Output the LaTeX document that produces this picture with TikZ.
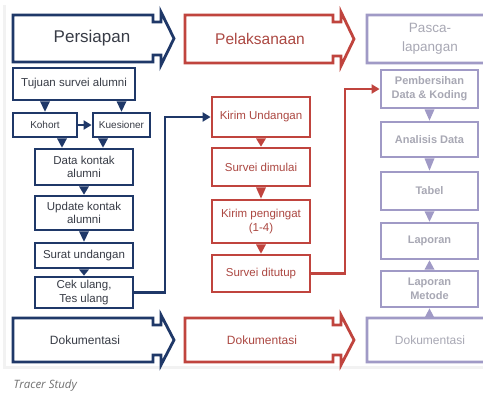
\documentclass[tikz,border=0pt]{standalone}
\usepackage{fontspec}
\setmainfont{Liberation Sans}
\newfontfamily\capfont{Open Sans}
\usetikzlibrary{calc,arrows.meta}

\definecolor{navy}{RGB}{31,56,104}
\definecolor{brick}{RGB}{192,68,62}
\definecolor{lilac}{RGB}{160,154,198}
\definecolor{navytxt}{RGB}{56,60,70}
\definecolor{bricktxt}{RGB}{172,72,66}
\definecolor{lilactxt}{RGB}{168,168,180}
\definecolor{captxt}{RGB}{112,112,112}

% notched stage arrow: (left, top, body right, bottom)
\def\stage[#1](#2,#3,#4,#5){\draw[#1, line width=2.8pt, line join=miter] (#2,#3) -- (#4,#3) -- (#4,#3+7) -- (#4+8,#3+7) -- (#4+8,#3-3) -- (#4+21,{(#3+#5)/2}) -- (#4+8,#5+3) -- (#4+8,#5-7) -- (#4,#5-7) -- (#4,#5) -- (#2,#5) -- cycle;}
% small wedge from a box edge to the next box
\def\wedgeto[#1](#2)(#3){\coordinate (wb) at (#2); \fill[#1] ([xshift=-5pt]wb) -- ([xshift=5pt]wb) -- (#3) -- cycle;}

\tikzset{
  box/.style={draw, line width=2.8pt, align=center, inner sep=1pt, font=\fontsize{11.5}{13.5}\selectfont},
  bluebox/.style={box, draw=navy, text=navytxt},
  redbox/.style={box, draw=brick, text=bricktxt, minimum width=98},
  lilacbox/.style={box, draw=lilac, text=lilactxt, minimum width=97, font=\bfseries\fontsize{11}{14}\selectfont},
  small/.style={font=\fontsize{10}{12}\selectfont},
  link/.style={line width=2.4pt, -{Triangle[length=8pt,width=9pt]}},
}

\begin{document}
\begin{tikzpicture}[x=1pt,y=-1pt]
%%%%% START %%%%%
\useasboundingbox (0,0) rectangle (483,394);
\clip (0,0) rectangle (483,394);
\fill[white] (0,0) rectangle (483,394);
\fill[black!5] (3,5) rectangle (483,369);
\fill[white] (6,3) rectangle (483,366);

% stage arrows
\stage[navy](13,15,153,62)
\stage[brick](185,15,333,63)
\stage[lilac](367,15,520,63)
\stage[navy](13,318,153,362)
\stage[brick](185,318,333,362)
\stage[lilac](367,318,520,362)

\node[text=navytxt, font=\fontsize{17}{20}\selectfont] (persiapan) at (92,38.5) {Persiapan};
\node[text=bricktxt, font=\fontsize{15.5}{18}\selectfont] (pelaksanaan) at (260,38.5) {Pelaksanaan};
\node[text=lilactxt, align=center, font=\fontsize{13.5}{19}\selectfont] (pasca) at (430,38.5) {Pasca-\\lapangan};

\node[text=navytxt, font=\fontsize{12}{14}\selectfont] (doc1) at (85,340) {Dokumentasi};
\node[text=bricktxt, font=\fontsize{12}{14}\selectfont] (doc2) at (262,340) {Dokumentasi};
\node[text=lilactxt, font=\fontsize{12}{14}\selectfont] (doc3) at (430,340) {Dokumentasi};
\coordinate (doc3top) at (429.5,318);

% persiapan
\node[bluebox, minimum width=122, minimum height=32] (tujuan) at (74,84) {Tujuan survei alumni};
\node[bluebox, small, minimum width=64, minimum height=24] (kohort) at (45,125) {Kohort};
\node[bluebox, small, minimum width=57, minimum height=24] (kues) at (121.5,125) {Kuesioner};
\node[bluebox, minimum width=98, minimum height=36] (data) at (84,167) {Data kontak\\alumni};
\node[bluebox, minimum width=98, minimum height=34] (update) at (84,213) {Update kontak\\alumni};
\node[bluebox, minimum width=98, minimum height=25] (surat) at (84,255.5) {Surat undangan};
\node[bluebox, minimum width=98, minimum height=31] (cek) at (84,292.5) {Cek ulang,\\Tes ulang};

\coordinate (dl) at ([xshift=-22pt]data.north);
\coordinate (dr) at ([xshift=19pt]data.north);
\wedgeto[navy](tujuan.south -| kohort.north)(kohort.north)
\wedgeto[navy](tujuan.south -| kues.north)(kues.north)
\wedgeto[navy](kohort.south -| dl)(dl)
\wedgeto[navy](kues.south -| dr)(dr)
\wedgeto[navy](data.south)(update.north)
\wedgeto[navy](update.south)(surat.north)
\wedgeto[navy](surat.south)(cek.north)
\draw[link, navy] (kohort) -- (kues);

% pelaksanaan
\node[redbox, minimum height=40] (kirim) at (261,117) {Kirim Undangan};
\node[redbox, minimum height=38] (mulai) at (261,167) {Survei dimulai};
\node[redbox, minimum height=43] (ingat) at (261,221.5) {Kirim pengingat\\(1-4)};
\node[redbox, minimum height=37] (tutup) at (261,273.5) {Survei ditutup};

\wedgeto[brick](kirim.south)(mulai.north)
\wedgeto[brick](mulai.south)(ingat.north)
\wedgeto[brick](ingat.south)(tutup.north)

% pasca-lapangan
\node[lilacbox, minimum height=38] (bersih) at (429.5,89) {Pembersihan\\Data \& Koding};
\node[lilacbox, minimum height=35] (analisis) at (429.5,139.5) {Analisis Data};
\node[lilacbox, minimum height=38] (tabel) at (429.5,191) {Tabel};
\node[lilacbox, minimum height=36] (laporan) at (429.5,241) {Laporan};
\node[lilacbox, minimum height=36] (metode) at (429.5,289) {Laporan\\Metode};

\wedgeto[lilac](bersih.south)(analisis.north)
\wedgeto[lilac](analisis.south)(tabel.north)
\wedgeto[lilac](tabel.south)(laporan.north)
\wedgeto[lilac](metode.north)(laporan.south)
\wedgeto[lilac](doc3top)(metode.south)

% links between stages
\coordinate (bendA) at (165,0);
\coordinate (bendB) at (345,0);
\draw[link, navy] (cek.east) -- (cek.east -| bendA) |- (kirim.west);
\draw[link, brick] (tutup.east) -- (tutup.east -| bendB) |- (bersih.west);

\node[anchor=west, text=captxt, font=\capfont\itshape\fontsize{11.5}{13}\selectfont] (caption) at (10,386) {Tracer Study};
%%%%% END %%%%%
\end{tikzpicture}
\end{document}
